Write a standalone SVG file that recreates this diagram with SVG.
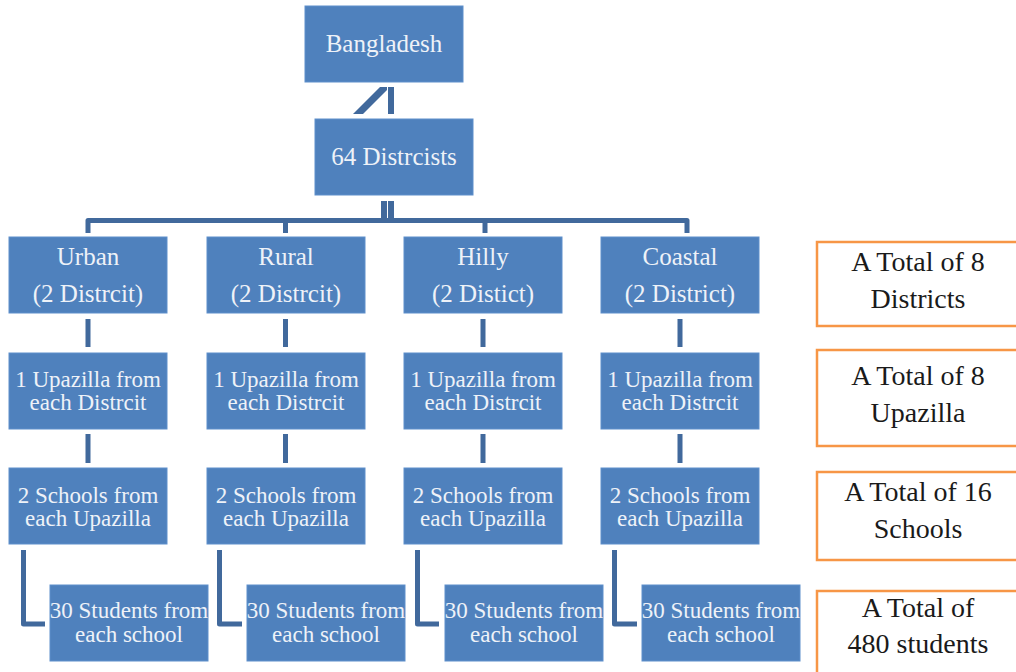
<svg xmlns="http://www.w3.org/2000/svg" width="1016" height="672" viewBox="0 0 1016 672">
<style>
.box{fill:#4F81BD;stroke:#5E8FCB;stroke-width:1}
.t{font-family:"Times New Roman",Times,"Liberation Serif","Noto Serif","DejaVu Serif",serif;fill:#EEF2F8;text-anchor:middle}
.t25{font-size:25px}
.t23{font-size:23px}
.c{fill:none;stroke:#41699C;stroke-width:5;stroke-linejoin:round}
.tot{fill:#FFFFFF;stroke:#F79646;stroke-width:2.5}
.tt{font-family:"Times New Roman",Times,"Liberation Serif","Noto Serif","DejaVu Serif",serif;font-size:28px;fill:#1a1a1a;text-anchor:middle}
</style>
<rect width="1016" height="672" fill="#FFFFFF"/>
<g id="connectors">
<polygon points="353,114 363,114 387,90 387,87 380,87" fill="#41699C"/>
<rect x="388" y="87" width="6" height="27" fill="#41699C"/>
<rect x="381" y="201" width="6" height="22" fill="#41699C"/>
<rect x="388" y="201" width="6" height="22" fill="#41699C"/>
<path class="c" d="M88,233 V220.5 H687 V233"/>
<path class="c" d="M285.5,220.5 V233"/>
<path class="c" d="M485,220.5 V233"/>
<path class="c" d="M88,319 V347 M88,434 V463"/>
<path class="c" d="M285.5,319 V347 M285.5,434 V463"/>
<path class="c" d="M483,319 V347 M483,434 V463"/>
<path class="c" d="M680,319 V347 M680,434 V463"/>
<path class="c" d="M23.5,550 V624 H45"/>
<path class="c" d="M219.5,550 V624 H242"/>
<path class="c" d="M417.5,550 V624 H439"/>
<path class="c" d="M614.5,550 V624 H637"/>
</g>
<g id="bangladesh"><rect class="box" x="305" y="6" width="158" height="76"/><text class="t t25" x="384" y="52">Bangladesh</text></g>
<g id="districts64"><rect class="box" x="315" y="119" width="158" height="76"/><text class="t t25" x="394" y="165">64 Distrcists</text></g>

<g id="urban"><rect class="box" x="9" y="237" width="158" height="76"/><text class="t t25" x="88" y="265">Urban</text><text class="t t25" x="88" y="302">(2 Distrcit)</text></g>
<g id="rural"><rect class="box" x="207" y="237" width="158" height="76"/><text class="t t25" x="286" y="265">Rural</text><text class="t t25" x="286" y="302">(2 Distrcit)</text></g>
<g id="hilly"><rect class="box" x="404" y="237" width="158" height="76"/><text class="t t25" x="483" y="265">Hilly</text><text class="t t25" x="483" y="302">(2 Distict)</text></g>
<g id="coastal"><rect class="box" x="601" y="237" width="158" height="76"/><text class="t t25" x="680" y="265">Coastal</text><text class="t t25" x="680" y="302">(2 District)</text></g>

<g id="upazilla1"><rect class="box" x="9" y="353" width="158" height="76"/><text class="t t23" x="88" y="387">1 Upazilla from</text><text class="t t23" x="88" y="410">each Distrcit</text></g>
<g id="upazilla2"><rect class="box" x="207" y="353" width="158" height="76"/><text class="t t23" x="286" y="387">1 Upazilla from</text><text class="t t23" x="286" y="410">each Distrcit</text></g>
<g id="upazilla3"><rect class="box" x="404" y="353" width="158" height="76"/><text class="t t23" x="483" y="387">1 Upazilla from</text><text class="t t23" x="483" y="410">each Distrcit</text></g>
<g id="upazilla4"><rect class="box" x="601" y="353" width="158" height="76"/><text class="t t23" x="680" y="387">1 Upazilla from</text><text class="t t23" x="680" y="410">each Distrcit</text></g>

<g id="schools1"><rect class="box" x="9" y="468" width="158" height="76"/><text class="t t23" x="88" y="503">2 Schools from</text><text class="t t23" x="88" y="526">each Upazilla</text></g>
<g id="schools2"><rect class="box" x="207" y="468" width="158" height="76"/><text class="t t23" x="286" y="503">2 Schools from</text><text class="t t23" x="286" y="526">each Upazilla</text></g>
<g id="schools3"><rect class="box" x="404" y="468" width="158" height="76"/><text class="t t23" x="483" y="503">2 Schools from</text><text class="t t23" x="483" y="526">each Upazilla</text></g>
<g id="schools4"><rect class="box" x="601" y="468" width="158" height="76"/><text class="t t23" x="680" y="503">2 Schools from</text><text class="t t23" x="680" y="526">each Upazilla</text></g>

<g id="students1"><rect class="box" x="50" y="585" width="158" height="76"/><text class="t t23" x="129" y="618">30 Students from</text><text class="t t23" x="129" y="642">each school</text></g>
<g id="students2"><rect class="box" x="247" y="585" width="158" height="76"/><text class="t t23" x="326" y="618">30 Students from</text><text class="t t23" x="326" y="642">each school</text></g>
<g id="students3"><rect class="box" x="445" y="585" width="158" height="76"/><text class="t t23" x="524" y="618">30 Students from</text><text class="t t23" x="524" y="642">each school</text></g>
<g id="students4"><rect class="box" x="642" y="585" width="158" height="76"/><text class="t t23" x="721" y="618">30 Students from</text><text class="t t23" x="721" y="642">each school</text></g>

<g id="total-districts"><rect class="tot" x="817" y="242" width="210" height="84"/><text class="tt" x="918" y="271">A Total of 8</text><text class="tt" x="918" y="308">Districts</text></g>
<g id="total-upazilla"><rect class="tot" x="817" y="350" width="210" height="96"/><text class="tt" x="918" y="385">A Total of 8</text><text class="tt" x="918" y="422">Upazilla</text></g>
<g id="total-schools"><rect class="tot" x="817" y="472" width="210" height="88"/><text class="tt" x="918" y="501">A Total of 16</text><text class="tt" x="918" y="538">Schools</text></g>
<g id="total-students"><rect class="tot" x="817" y="591" width="210" height="100"/><text class="tt" x="918" y="617">A Total of</text><text class="tt" x="918" y="653">480 students</text></g>
</svg>
